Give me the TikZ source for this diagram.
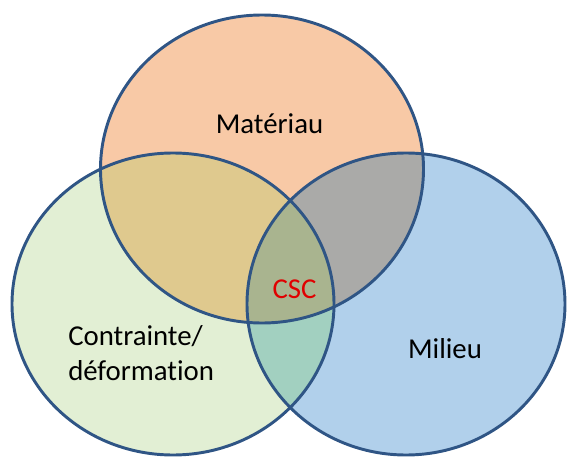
\documentclass[tikz,border=0pt]{standalone}
\usepackage{fontspec}
\setmainfont{Carlito}[Ligatures={NoCommon,NoRare}]
\definecolor{matfill}{HTML}{F8C9A6}
\definecolor{contfill}{HTML}{E2EFD4}
\definecolor{milfill}{HTML}{B1D0EB}
\definecolor{matcont}{HTML}{DFC98E}
\definecolor{matmil}{HTML}{AAAAA8}
\definecolor{contmil}{HTML}{A2D0C0}
\definecolor{cscfill}{HTML}{A9B48F}
\definecolor{rim}{HTML}{2F5585}
\definecolor{cscred}{HTML}{E00000}

\def\matpath{(262,169) ellipse (161.5 and 154)}
\def\contpath{(173,304) ellipse (161 and 151)}
\def\milpath{(406,304) ellipse (159 and 151)}

\begin{document}
\begin{tikzpicture}[x=0.75pt,y=-0.75pt,
  lbl/.style={font=\fontsize{21.6}{26.25}\selectfont, inner sep=0pt}]
  \useasboundingbox (0,0) rectangle (569,457);
  % plain regions
  \fill[matfill] \matpath;
  \fill[contfill] \contpath;
  \fill[milfill] \milpath;
  % overlaps
  \begin{scope}
    \clip \matpath;
    \fill[matcont] \contpath;
    \fill[matmil] \milpath;
  \end{scope}
  \begin{scope}
    \clip \contpath;
    \fill[contmil] \milpath;
  \end{scope}
  \begin{scope}
    \clip \matpath;
    \clip \contpath;
    \fill[cscfill] \milpath;
  \end{scope}
  % rims
  \draw[rim, line width=2.2pt] \matpath;
  \draw[rim, line width=2.2pt] \contpath;
  \draw[rim, line width=2.2pt] \milpath;
  % labels
  \node[lbl] (mat) at (269.5,124) {Matériau};
  \node[lbl, align=left, anchor=west] (cont) at (68,353) {Contrainte/\\déformation};
  \node[lbl] (mil) at (445,349) {Milieu};
  \node[lbl, text=cscred] (csc) at (294.5,289) {CSC};
\end{tikzpicture}
\end{document}
